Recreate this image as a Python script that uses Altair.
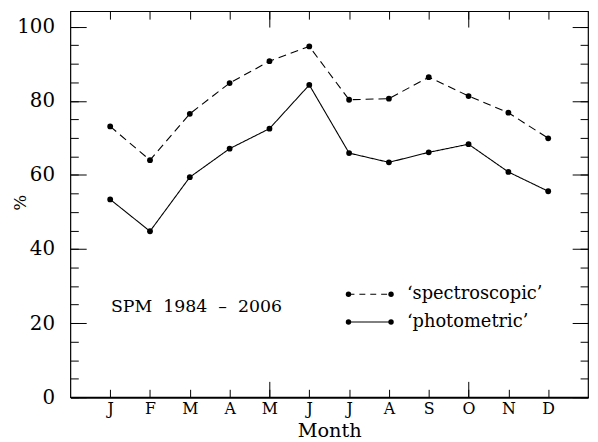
import json
import altair as alt
import pandas as pd

# ---- data ----
months = ["J", "F", "M", "A", "M", "J", "J", "A", "S", "O", "N", "D"]
month_index = list(range(1, 13))
spectroscopic = [73.1, 64.0, 76.5, 84.8, 90.7, 94.7, 80.3, 80.6, 86.4, 81.3, 76.8, 69.9]
photometric = [53.4, 44.8, 59.4, 67.1, 72.5, 84.3, 65.9, 63.4, 66.1, 68.3, 60.8, 55.6]
series_names = ["spectroscopic", "photometric"]
legend_labels = ["\u2018spectroscopic\u2019", "\u2018photometric\u2019"]
note_text = "SPM\u00a0\u00a01984\u00a0\u00a0\u2013\u00a0\u00a02006"
y_major = [0, 20, 40, 60, 80, 100]
y_minor = list(range(0, 101, 5))
x_major = [5, 10]

# ---- layout / style ----
W, H = 523, 390
FONT = "DejaVu Serif"

df = pd.DataFrame({
    "m": month_index * 2,
    "v": spectroscopic + photometric,
    "s": [series_names[0]] * 12 + [series_names[1]] * 12,
})
one = pd.DataFrame({"k": [0]})

xs = alt.Scale(domain=[0, 13], nice=False, zero=False)
ys = alt.Scale(domain=[0, 104.2], nice=False, zero=False)
label_expr = json.dumps(months) + "[datum.value - 1]"


def axis_layer(xaxis, yaxis):
    return alt.Chart(df).mark_point(opacity=0).encode(
        x=alt.X("m:Q", scale=xs, axis=xaxis),
        y=alt.Y("v:Q", scale=ys, axis=yaxis),
    )


def tick_axis(orient, values, size, offset):
    return alt.Axis(orient=orient, values=values, tickSize=size, offset=offset,
                    labels=False, domain=False, grid=False, title=None,
                    tickColor="black", tickWidth=1)


ax_main = axis_layer(
    alt.Axis(orient="bottom", values=month_index, labelExpr=label_expr, ticks=False,
             domain=True, domainWidth=2, domainColor="black", grid=False,
             labelFont=FONT, labelFontSize=16, labelColor="black", labelPadding=3,
             labelFlush=False, labelOverlap=False,
             title="Month", titleFont=FONT, titleFontSize=19.5, titleFontWeight="normal",
             titleColor="black", titleY=40, titleBaseline="alphabetic"),
    alt.Axis(orient="left", values=y_major, ticks=False, domain=False, grid=False,
             labelFont=FONT, labelFontSize=20, labelColor="black", labelPadding=16,
             labelFlush=False, labelOverlap=False,
             title="%", titleFont=FONT, titleFontSize=17, titleFontWeight="normal",
             titleColor="black", titleX=-50, titleY=193, titleAngle=270,
             titleAlign="center", titleBaseline="middle"),
)
ax_in_minor = axis_layer(tick_axis("top", month_index, 8, -H),
                         tick_axis("right", y_minor, 8, -W))
ax_in_major = axis_layer(tick_axis("top", x_major, 16, -H),
                         tick_axis("right", y_major, 16, -W))
ax_top_minor = axis_layer(tick_axis("bottom", month_index, 8, -H),
                          tick_axis("left", y_minor, 8, -W))
ax_top_major = axis_layer(tick_axis("bottom", x_major, 16, -H),
                          tick_axis("left", y_major, 16, -W))

dash_scale = alt.Scale(domain=series_names, range=[[8, 5], [1, 0]])

lines = alt.Chart(df).mark_line(color="black", strokeWidth=1.1).encode(
    x=alt.X("m:Q", scale=xs, axis=None),
    y=alt.Y("v:Q", scale=ys, axis=None),
    strokeDash=alt.StrokeDash("s:N", scale=dash_scale, legend=None),
    detail="s:N",
)
points = alt.Chart(df).mark_circle(color="black", size=34, opacity=1).encode(
    x=alt.X("m:Q", scale=xs, axis=None),
    y=alt.Y("v:Q", scale=ys, axis=None),
)

# ---- manual legend ----
LEG_X1, LEG_X2, LEG_TX = 281, 324, 340
LEG_Y = [286, 314]
dashes = [[6, 5], [1, 0]]
legend_layers = []
for i in range(2):
    legend_layers.append(
        alt.Chart(one).mark_rule(color="black", strokeWidth=1.1, strokeDash=dashes[i]).encode(
            x=alt.value(LEG_X1), x2=alt.value(LEG_X2), y=alt.value(LEG_Y[i]))
    )
    for xx in (LEG_X1, LEG_X2):
        legend_layers.append(
            alt.Chart(one).mark_circle(color="black", size=30, opacity=1).encode(
                x=alt.value(xx), y=alt.value(LEG_Y[i]))
        )
    legend_layers.append(
        alt.Chart(one).mark_text(align="left", baseline="middle", font=FONT, fontSize=18,
                                 color="black").encode(
            x=alt.value(LEG_TX), y=alt.value(LEG_Y[i]), text=alt.value(legend_labels[i]))
    )

note = alt.Chart(one).mark_text(align="left", baseline="middle", font=FONT, fontSize=17.5,
                                color="black").encode(
    x=alt.value(41), y=alt.value(299), text=alt.value(note_text))

chart = alt.layer(
    ax_main, ax_in_minor, ax_in_major, ax_top_minor, ax_top_major,
    lines, points, note, *legend_layers,
).resolve_axis(x="independent", y="independent").properties(
    width=W, height=H,
    autosize=alt.AutoSizeParams(type="none"),
    padding={"left": 63, "top": 1, "right": 2, "bottom": 43},
    background="white",
).configure_view(stroke="black", strokeWidth=1.2)

chart.save("out.html", embed_options={"renderer": "svg", "actions": False})
